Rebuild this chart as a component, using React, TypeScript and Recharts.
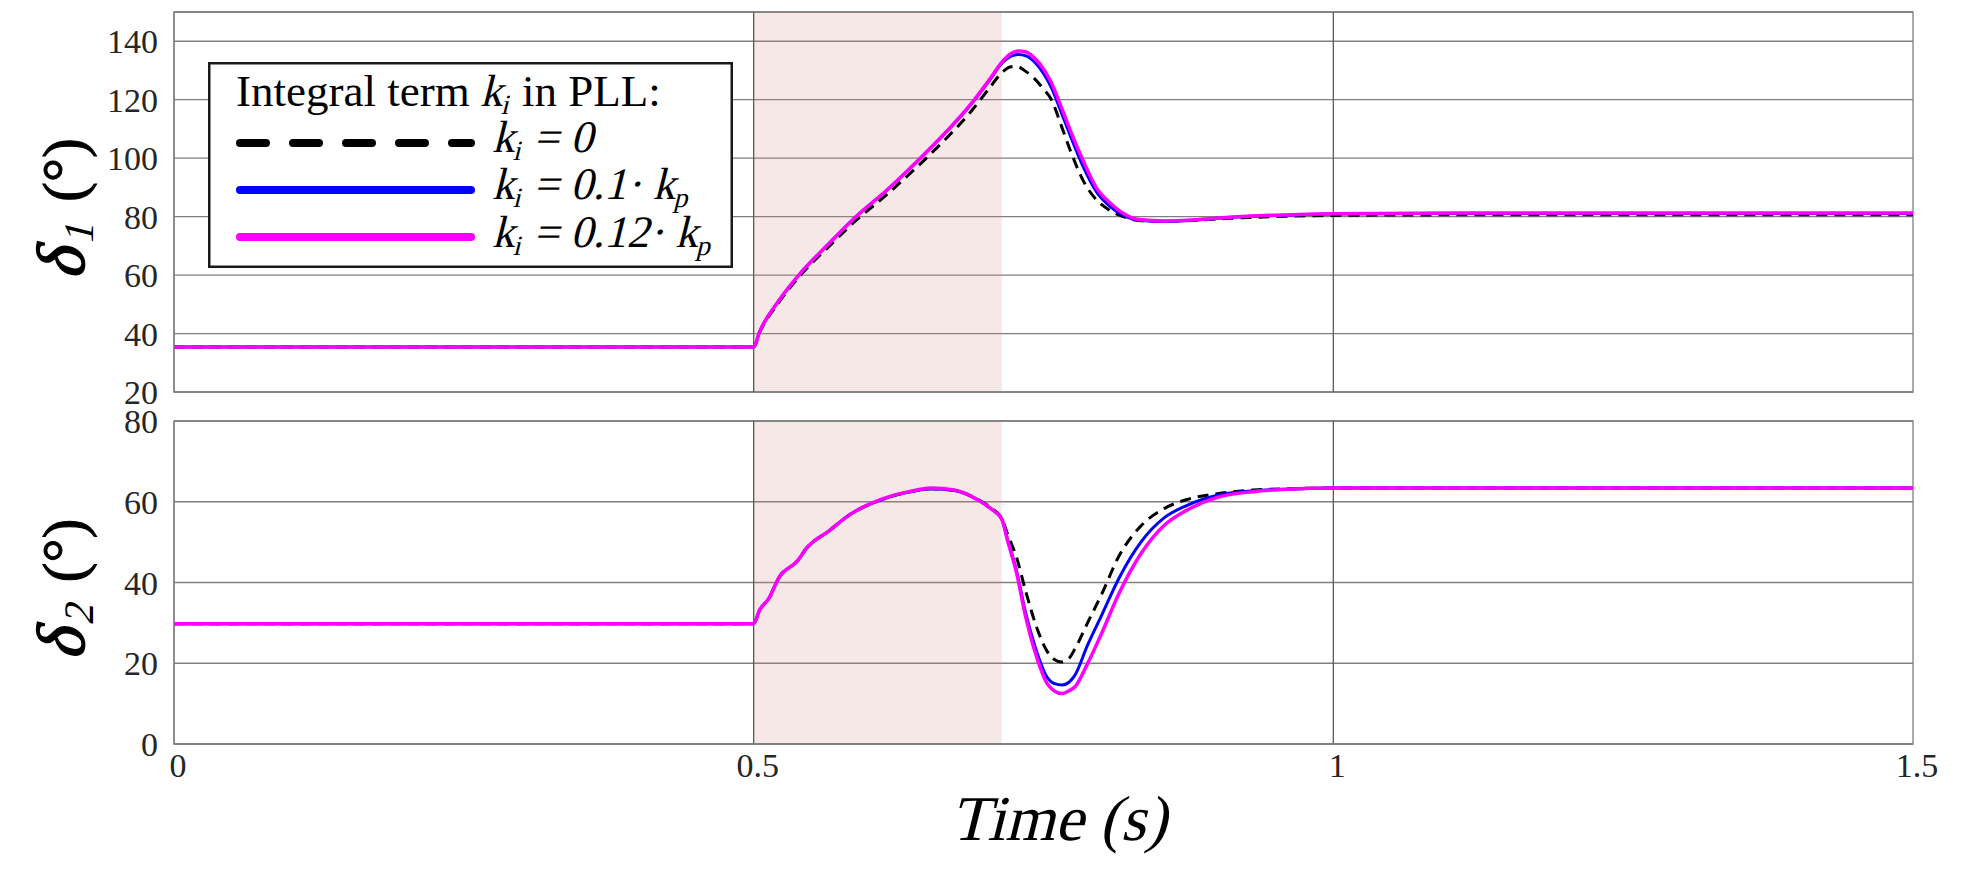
import React from "react";
import {
  LineChart,
  Line,
  XAxis,
  YAxis,
  CartesianGrid,
  ReferenceArea,
  ReferenceLine,
  Legend,
  Label,
} from "recharts";

const FONT = '"Liberation Serif", "Times New Roman", serif';
const SKEW = -14; // fake italic, the serif italic face is not available

// time axis (s) and fault window
const X_TICKS = [0, 0.5, 1, 1.5];
const FAULT_START = 0.5;
const FAULT_END = 0.714;

// delta 1 (deg)
const TIME_TOP = [
  0, 0.5, 0.505, 0.522, 0.54, 0.565, 0.588, 0.615, 0.642, 0.665, 0.688, 0.703, 0.715, 0.722, 0.728, 0.735, 0.742,
  0.75, 0.757, 0.765, 0.773, 0.784, 0.796, 0.807, 0.82, 0.834, 0.854, 0.88, 0.91, 0.95, 1.0, 1.1, 1.25, 1.5,
];
const D1_KI_0 = [
  35.4, 35.4, 40.2, 50.8, 59.8, 69.8, 78.6, 87.6, 97.4, 106.3, 116.2, 123.8, 129.6, 131.3, 131.2, 129.6, 127.3,
  123.6, 119.9, 111.5, 102.8, 92.5, 85.6, 82.2, 79.8, 78.6, 78.4, 78.7, 79.4, 80.0, 80.4, 80.6, 80.6, 80.6,
];
const D1_KI_01 = [
  35.4, 35.4, 40.5, 51.4, 60.5, 70.8, 79.9, 89.1, 99.3, 108.5, 118.6, 126.4, 132.8, 134.9, 135.5, 135.0, 133.0,
  129.0, 124.0, 116.0, 107.8, 97.3, 88.3, 83.6, 80.2, 78.7, 78.4, 78.8, 79.7, 80.4, 80.9, 81.1, 81.1, 81.1,
];
const D1_KI_012 = [
  35.4, 35.4, 40.5, 51.4, 60.5, 70.8, 79.9, 89.1, 99.3, 108.5, 118.8, 126.7, 133.3, 135.8, 136.7, 136.3, 134.3,
  130.5, 125.6, 117.8, 109.6, 99.3, 89.6, 84.8, 80.8, 78.9, 78.5, 78.9, 79.8, 80.5, 81.0, 81.2, 81.2, 81.2,
];
const D1_TICKS = [20, 40, 60, 80, 100, 120, 140];

// delta 2 (deg)
const TIME_BOT = [
  0, 0.5, 0.505, 0.513, 0.522, 0.538, 0.545, 0.565, 0.584, 0.611, 0.634, 0.653, 0.673, 0.692, 0.705, 0.714, 0.719,
  0.727, 0.734, 0.744, 0.753, 0.759, 0.766, 0.772, 0.777, 0.788, 0.8, 0.815, 0.834, 0.854, 0.873, 0.9, 0.931, 0.96,
  1.0, 1.1, 1.25, 1.5,
];
const D2_KI_0 = [
  29.8, 29.8, 33.1, 36.0, 41.3, 45.4, 48.3, 52.8, 57.0, 60.6, 62.4, 63.2, 62.8, 60.8, 58.4, 55.9, 52.0, 46.0, 38.5,
  29.0, 23.0, 21.0, 20.3, 21.2, 23.5, 30.0, 37.0, 46.5, 54.0, 58.3, 60.5, 62.0, 62.9, 63.2, 63.4, 63.4, 63.4, 63.4,
];
const D2_KI_01 = [
  29.8, 29.8, 33.1, 36.0, 41.3, 45.4, 48.3, 52.8, 57.0, 60.6, 62.4, 63.2, 62.8, 60.7, 58.2, 55.7, 50.6, 42.6, 33.2,
  23.0, 16.6, 15.0, 14.6, 15.3, 17.0, 24.5, 31.8, 41.0, 50.0, 56.0, 59.0, 61.6, 62.7, 63.1, 63.4, 63.4, 63.4, 63.4,
];
const D2_KI_012 = [
  29.8, 29.8, 33.1, 36.0, 41.3, 45.4, 48.3, 52.8, 57.0, 60.7, 62.5, 63.4, 62.9, 60.7, 58.2, 55.7, 50.4, 42.1, 32.3,
  21.6, 15.0, 13.2, 12.5, 13.2, 14.1, 19.9, 27.3, 37.2, 47.1, 54.1, 57.8, 61.1, 62.5, 63.1, 63.4, 63.4, 63.4, 63.4,
];
const D2_TICKS = [0, 20, 40, 60, 80];

const topData = TIME_TOP.map((t, i) => ({ t, k0: D1_KI_0[i], k01: D1_KI_01[i], k012: D1_KI_012[i] }));
const botData = TIME_BOT.map((t, i) => ({ t, k0: D2_KI_0[i], k01: D2_KI_01[i], k012: D2_KI_012[i] }));

const GRID = "#7f7f7f";
const tickStyle = { fontFamily: FONT, fontSize: 34, fill: "#262626" };

function YLabel({ viewBox, sub }: any) {
  const cx = 84;
  const cy = viewBox.y + viewBox.height / 2 + 8;
  return (
    <g transform={`translate(${cx},${cy}) rotate(-90)`} fontFamily={FONT} fill="#000">
      <g transform={`translate(-70,0) skewX(${SKEW})`}>
        <text x={0} y={0} fontSize={68} stroke="#000" strokeWidth={1.4}>δ</text>
      </g>
      <g transform={`translate(-35,9) skewX(${SKEW})`}>
        <text x={0} y={0} fontSize={42}>{sub}</text>
      </g>
      <text x={8} y={0} fontSize={60} stroke="#000" strokeWidth={1}>(°)</text>
    </g>
  );
}

function TimeLabel({ viewBox }: any) {
  const x = viewBox.x + viewBox.width / 2 + 15;
  const y = viewBox.y + 96;
  return (
    <g transform={`translate(${x},${y}) skewX(${SKEW})`}>
      <text x={0} y={0} textAnchor="middle" fontFamily={FONT} fontSize={64} fill="#000">
        Time (s)
      </text>
    </g>
  );
}

function LegendBox() {
  const entry = (y: number, rest: React.ReactNode) => (
    <g transform={`translate(284,${y}) skewX(${SKEW})`}>
      <text x={0} y={0} fontFamily={FONT} fontSize={45} fill="#000">
        <tspan>k</tspan>
        <tspan fontSize={28} dy={8}>i</tspan>
        <tspan dy={-8}>{rest}</tspan>
      </text>
    </g>
  );
  return (
    <svg width={525} height={206} style={{ display: "block" }}>
      <rect x={1.25} y={1.25} width={522.5} height={203.5} fill="#fff" stroke="#1a1a1a" strokeWidth={2.5} />
      <text x={28} y={44} fontFamily={FONT} fontSize={45} fill="#000">Integral term</text>
      <g transform={`translate(272,44) skewX(${SKEW})`}>
        <text x={0} y={0} fontFamily={FONT} fontSize={45} fill="#000">
          k<tspan fontSize={28} dy={8}>i</tspan>
        </text>
      </g>
      <text x={314} y={44} fontFamily={FONT} fontSize={45} fill="#000">in PLL:</text>
      <line x1={32} x2={263} y1={81} y2={81} stroke="#000" strokeWidth={8} strokeLinecap="round" strokeDasharray="26 27" />
      <line x1={32} x2={263} y1={128} y2={128} stroke="#0000ff" strokeWidth={8} strokeLinecap="round" />
      <line x1={32} x2={263} y1={175} y2={175} stroke="#ff00ff" strokeWidth={8} strokeLinecap="round" />
      {entry(90, " = 0")}
      {entry(137, <>{" = 0.1· k"}<tspan fontSize={28} dy={8}>p</tspan></>)}
      {entry(185, <>{" = 0.12· k"}<tspan fontSize={28} dy={8}>p</tspan></>)}
    </svg>
  );
}

export default function App() {
  const lines = [
    <Line key="k0" type="monotone" dataKey="k0" stroke="#000" strokeWidth={3} strokeDasharray="11 7" dot={false} isAnimationActive={false} />,
    <Line key="k01" type="monotone" dataKey="k01" stroke="#0000ff" strokeWidth={3} dot={false} isAnimationActive={false} />,
    <Line key="k012" type="monotone" dataKey="k012" stroke="#ff00ff" strokeWidth={3.5} dot={false} isAnimationActive={false} />,
  ];

  return (
    <div style={{ position: "relative", width: 1965, height: 890, background: "#fff" }}>
      <style>{"body{margin:0}"}</style>
      <div style={{ position: "absolute", left: 0, top: 0 }}>
        <LineChart width={1965} height={420} data={topData} margin={{ top: 12, right: 52, bottom: 28, left: 0 }}>
          <CartesianGrid vertical={false} stroke={GRID} strokeWidth={1.3} />
          <XAxis type="number" dataKey="t" domain={[0, 1.5]} ticks={X_TICKS} hide allowDataOverflow />
          <YAxis
            type="number"
            domain={[20, 150]}
            ticks={D1_TICKS}
            interval={0}
            width={174}
            tickSize={0}
            tickMargin={16}
            tickLine={false}
            axisLine={{ stroke: GRID, strokeWidth: 1.3 }}
            tick={tickStyle}
            allowDataOverflow
            label={<Label content={(p: any) => <YLabel viewBox={p.viewBox} sub="1" />} />}
          />
          <ReferenceArea x1={FAULT_START} x2={FAULT_END} y1={20} y2={150} fill="#d98c8c" fillOpacity={0.2} stroke="none" />
          <ReferenceArea x1={0} x2={1.5} y1={20} y2={150} fill="none" stroke={GRID} strokeWidth={1.3} />
          <ReferenceLine x={0.5} stroke="#5a5a5a" strokeWidth={1.3} />
          <ReferenceLine x={1} stroke="#5a5a5a" strokeWidth={1.3} />
          {lines}
          <Legend
            layout="vertical"
            verticalAlign="middle"
            align="center"
            wrapperStyle={{ left: 208, top: 62, width: 525, height: 206 }}
            content={() => <LegendBox />}
          />
        </LineChart>
      </div>
      <div style={{ position: "absolute", left: 0, top: 400 }}>
        <LineChart width={1965} height={490} data={botData} margin={{ top: 21, right: 52, bottom: 46, left: 0 }}>
          <CartesianGrid vertical={false} stroke={GRID} strokeWidth={1.3} />
          <XAxis
            type="number"
            dataKey="t"
            domain={[0, 1.5]}
            ticks={X_TICKS}
            interval={0}
            height={100}
            tickSize={0}
            tickMargin={9}
            tickLine={false}
            axisLine={{ stroke: GRID, strokeWidth: 1.3 }}
            tick={{ ...tickStyle, dx: 4 }}
            allowDataOverflow
            label={<Label content={(p: any) => <TimeLabel viewBox={p.viewBox} />} />}
          />
          <YAxis
            type="number"
            domain={[0, 80]}
            ticks={D2_TICKS}
            interval={0}
            width={174}
            tickSize={0}
            tickMargin={16}
            tickLine={false}
            axisLine={{ stroke: GRID, strokeWidth: 1.3 }}
            tick={tickStyle}
            allowDataOverflow
            label={<Label content={(p: any) => <YLabel viewBox={p.viewBox} sub="2" />} />}
          />
          <ReferenceArea x1={FAULT_START} x2={FAULT_END} y1={0} y2={80} fill="#d98c8c" fillOpacity={0.2} stroke="none" />
          <ReferenceArea x1={0} x2={1.5} y1={0} y2={80} fill="none" stroke={GRID} strokeWidth={1.3} />
          <ReferenceLine x={0.5} stroke="#5a5a5a" strokeWidth={1.3} />
          <ReferenceLine x={1} stroke="#5a5a5a" strokeWidth={1.3} />
          {lines}
        </LineChart>
      </div>
    </div>
  );
}
